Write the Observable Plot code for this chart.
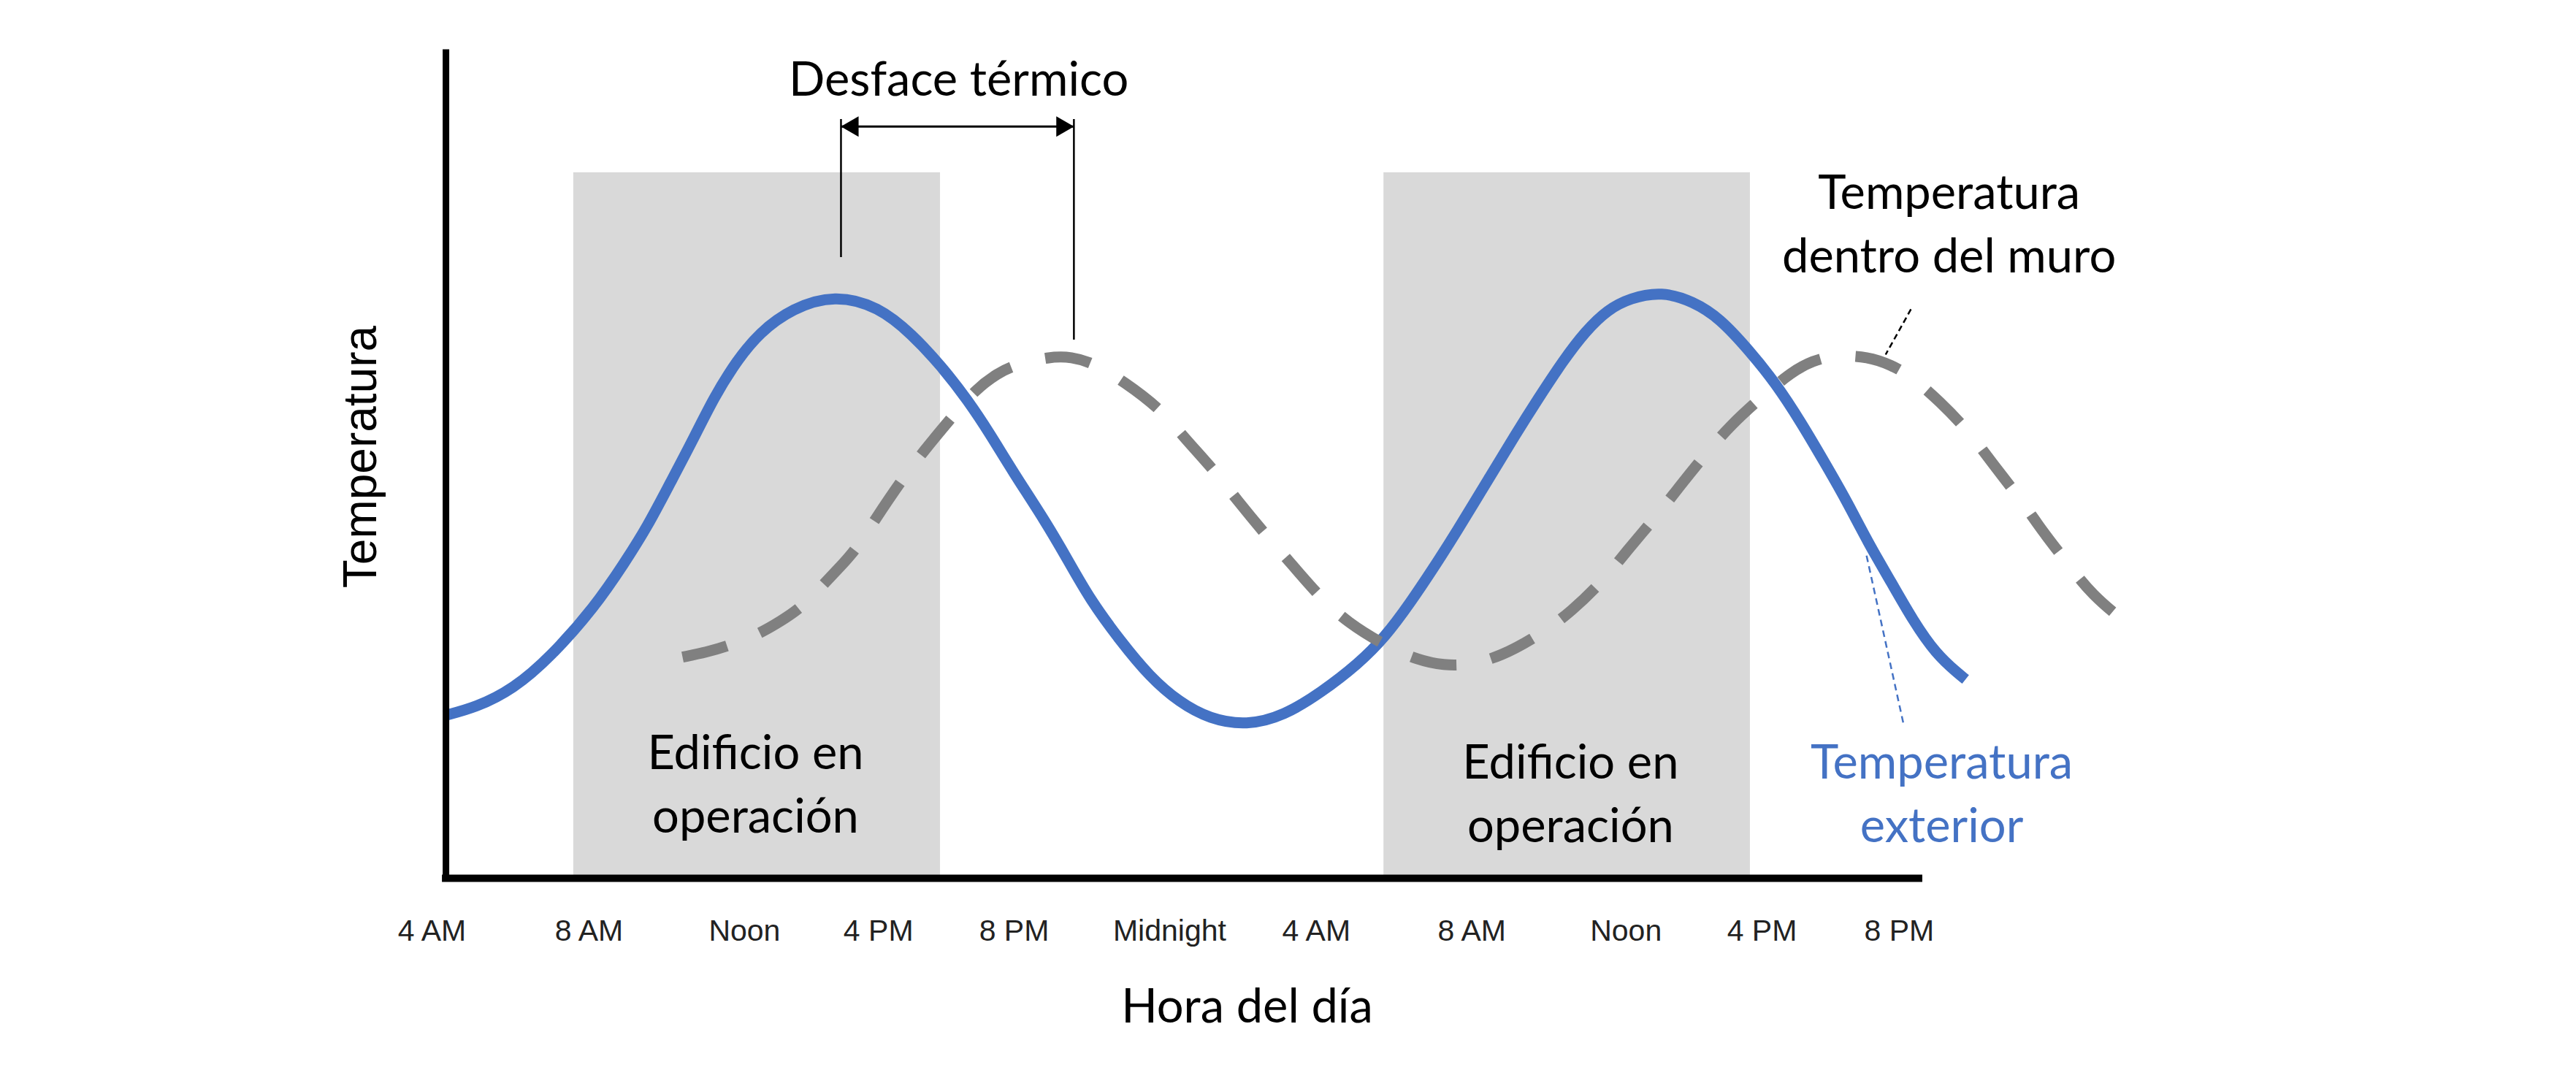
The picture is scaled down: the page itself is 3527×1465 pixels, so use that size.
<!DOCTYPE html>
<html>
<head>
<meta charset="utf-8">
<script src="https://cdn.jsdelivr.net/npm/d3@7"></script>
<script src="https://cdn.jsdelivr.net/npm/@observablehq/plot@0.6"></script>
<style>
  html, body { margin: 0; padding: 0; background: #fff; }
  #chart svg { display: block; }
</style>
</head>
<body>
<div id="chart"></div>
<script>
// ---- Data (x in hours since midnight of day 1, y in relative temperature units 0–100) ----
// tick positions (labels are not perfectly evenly spaced there)
const tickHours  = [4, 8.28, 12.52, 16.17, 19.87, 24.11, 28.11, 32.35, 36.55, 40.26, 44.0];
const tickLabels = ["4 AM", "8 AM", "Noon", "4 PM", "8 PM", "Midnight", "4 AM", "8 AM", "Noon", "4 PM", "8 PM"];

// Temperatura exterior (blue solid)
const exteriorHours = [4.33, 5.2, 6.21, 7.23, 8.44, 9.26, 9.87, 10.47, 11.09, 11.70, 12.31, 12.92, 13.83, 14.98, 16.17, 17.09, 17.90, 18.61, 19.22, 19.83, 20.73, 21.33, 21.95, 22.76, 23.57, 24.38, 25.20, 26.21, 27.23, 28.24, 29.26, 29.98, 30.69, 31.29, 31.91, 32.82, 33.53, 34.14, 34.85, 35.45, 36.05, 36.66, 37.53, 38.38, 39.10, 39.92, 40.63, 41.33, 41.95, 42.56, 43.16, 43.78, 44.38, 45.00, 45.61, 45.81];
const exteriorTemps = [19.7, 20.7, 22.9, 26.8, 32.9, 38.3, 42.6, 47.7, 52.9, 58.4, 62.7, 66.1, 69.1, 70.7, 69.3, 65.9, 62.0, 57.9, 53.8, 49.3, 43.2, 38.6, 33.7, 28.8, 24.4, 21.3, 19.3, 18.5, 19.7, 22.5, 26.0, 29.2, 33.5, 37.5, 41.8, 48.5, 53.7, 58.0, 62.8, 66.3, 68.9, 70.3, 71.1, 69.9, 67.9, 63.9, 60.0, 55.2, 50.5, 45.8, 40.6, 35.9, 31.2, 27.2, 24.8, 24.1];

// Temperatura dentro del muro (gray dashed)
const wallHours = [10.83, 11.49, 12.11, 12.92, 13.52, 14.04, 14.65, 15.16, 15.55, 16.07, 16.78, 17.39, 18.20, 18.81, 19.42, 19.88, 20.83, 21.43, 22.05, 22.86, 23.88, 24.48, 25.35, 25.95, 26.77, 27.43, 28.24, 28.96, 29.98, 30.89, 31.60, 32.21, 33.12, 34.24, 35.06, 35.98, 36.56, 37.37, 37.98, 38.74, 39.40, 40.27, 41.08, 41.64, 42.25, 43.16, 43.78, 44.34, 45.10, 45.91, 46.57, 47.33, 47.88, 48.60, 49.26, 50.18];
const wallTemps = [26.8, 27.4, 28.2, 29.6, 31.2, 32.7, 35.5, 37.9, 39.8, 43.4, 48.1, 51.7, 56.0, 59.2, 61.2, 62.2, 63.2, 63.2, 62.4, 60.2, 56.8, 53.5, 49.3, 45.8, 41.4, 38.1, 33.9, 31.0, 28.2, 26.4, 25.8, 25.8, 26.8, 29.6, 32.3, 36.3, 39.6, 43.8, 47.3, 51.5, 54.9, 58.4, 61.4, 62.7, 63.4, 63.2, 62.2, 60.8, 57.8, 54.1, 50.1, 45.8, 42.2, 38.1, 34.3, 31.0];

// Edificio en operación (shaded periods)
const operationStart = [7.86, 29.95];
const operationEnd   = [17.86, 39.94];
const operationTop   = 85.5;

// Axis extents (data units)
const axisStartHour = 4.38;
const axisEndHour   = 44.54;
const axisTopTemp   = 100;

// Desface térmico annotation (data units)
const lagHours      = [15.15, 21.50];
const lagLineTop    = 91.95;
const lagLineBottom = [75.22, 65.22];
const lagArrowTemp  = 91.09;

// Labels
const labelTexts  = ["Desface térmico", "Temperatura\ndentro del muro", "Temperatura\nexterior", "Edificio en\noperación", "Edificio en\noperación"];
const labelHours  = [18.36, 45.36, 45.16, 12.82, 35.04];
const labelTemps  = [94.8, 73.4, 4.34, 5.49, 4.34];
const labelColors = ["#000000", "#000000", "#4472c4", "#000000", "#000000"];

// Leader lines [x1, y1, x2, y2]
const wallLeader     = [44.32, 68.94, 43.63, 63.45];
const exteriorLeader = [43.11, 39.1, 44.11, 18.85];

const xTitle = "Hora del día";
const yTitle = "Temperatura";
const xTitlePos = [26.22, -17.52];
const yTitlePos = [2.47, 51.06];

// ---- Build tables ----
const exterior = exteriorHours.map((h, i) => ({hour: h, temp: exteriorTemps[i]}));
const wall = wallHours.map((h, i) => ({hour: h, temp: wallTemps[i]}));
const operation = operationStart.map((s, i) => ({start: s, end: operationEnd[i]}));
const labels = labelTexts.map((t, i) => ({text: t, hour: labelHours[i], temp: labelTemps[i], color: labelColors[i]}));
const lagLines = lagHours.map((h, i) => ({hour: h, bottom: lagLineBottom[i]}));
const tickLabelOf = new Map(tickHours.map((h, i) => [h, tickLabels[i]]));

const CAL = "Lato, 'Open Sans', sans-serif";
const ARIAL = "'Liberation Sans', Arial, sans-serif";

const chart = Plot.plot({
  width: 3527,
  height: 1465,
  marginLeft: 591,
  marginRight: 525.4,
  marginTop: 72,
  marginBottom: 263,
  x: {domain: [4, 52]},
  y: {domain: [0, 100], axis: null},
  style: {background: "#ffffff", fontFamily: CAL, overflow: "visible"},
  marks: [
    // shaded operation periods
    Plot.rect(operation, {x1: "start", x2: "end", y1: 0, y2: operationTop, fill: "#d9d9d9"}),

    // text inside boxes and other labels
    Plot.text(labels, {
      x: "hour", y: "temp", text: "text", fill: "color",
      fontFamily: CAL, fontSize: 65, lineAnchor: "bottom", lineHeight: 1.346, textAnchor: "middle"
    }),

    // curves
    Plot.line(exterior, {x: "hour", y: "temp", stroke: "#4472c4", strokeWidth: 15, curve: "basis", strokeLinecap: "butt", strokeLinejoin: "round"}),
    Plot.line(wall, {x: "hour", y: "temp", stroke: "#808080", strokeWidth: 15, strokeDasharray: "63,48", curve: "basis", strokeLinecap: "butt", strokeLinejoin: "round"}),

    // axes lines
    Plot.ruleX([axisStartHour], {y1: 0, y2: axisTopTemp, stroke: "#000", strokeWidth: 9, strokeLinecap: "square"}),
    Plot.ruleY([0], {x1: axisStartHour, x2: axisEndHour, stroke: "#000", strokeWidth: 10, strokeLinecap: "square"}),

    // x tick labels
    Plot.axisX(tickHours, {
      tickSize: 0, tickPadding: 56, label: null,
      tickFormat: d => tickLabelOf.get(d),
      fontSize: 41, fontFamily: ARIAL, fill: "#222"
    }),

    // axis titles
    Plot.text([xTitle], {x: xTitlePos[0], y: xTitlePos[1], text: d => d, fontFamily: CAL, fontSize: 65, lineAnchor: "bottom", fill: "#000"}),
    Plot.text([yTitle], {x: yTitlePos[0], y: yTitlePos[1], text: d => d, fontFamily: ARIAL, fontSize: 64, rotate: -90, lineAnchor: "bottom", fill: "#000"}),

    // Desface térmico markers
    Plot.ruleX(lagLines, {x: "hour", y1: "bottom", y2: lagLineTop, stroke: "#000", strokeWidth: 2.5}),
    Plot.ruleY([lagArrowTemp], {x1: lagHours[0], x2: lagHours[1], stroke: "#000", strokeWidth: 3}),
    Plot.dot([lagHours[0]], {x: d => d, y: lagArrowTemp, symbol: "triangle", r: 10.4, rotate: -90, fill: "#000", stroke: null, dx: 16}),
    Plot.dot([lagHours[1]], {x: d => d, y: lagArrowTemp, symbol: "triangle", r: 10.4, rotate: 90, fill: "#000", stroke: null, dx: -16}),

    // leader lines
    Plot.link([wallLeader], {x1: d => d[0], y1: d => d[1], x2: d => d[2], y2: d => d[3], stroke: "#000", strokeWidth: 2.5, strokeDasharray: "8,5"}),
    Plot.link([exteriorLeader], {x1: d => d[0], y1: d => d[1], x2: d => d[2], y2: d => d[3], stroke: "#4472c4", strokeWidth: 2.5, strokeDasharray: "9,6"})
  ]
});

document.getElementById("chart").appendChild(chart);
</script>
</body>
</html>
